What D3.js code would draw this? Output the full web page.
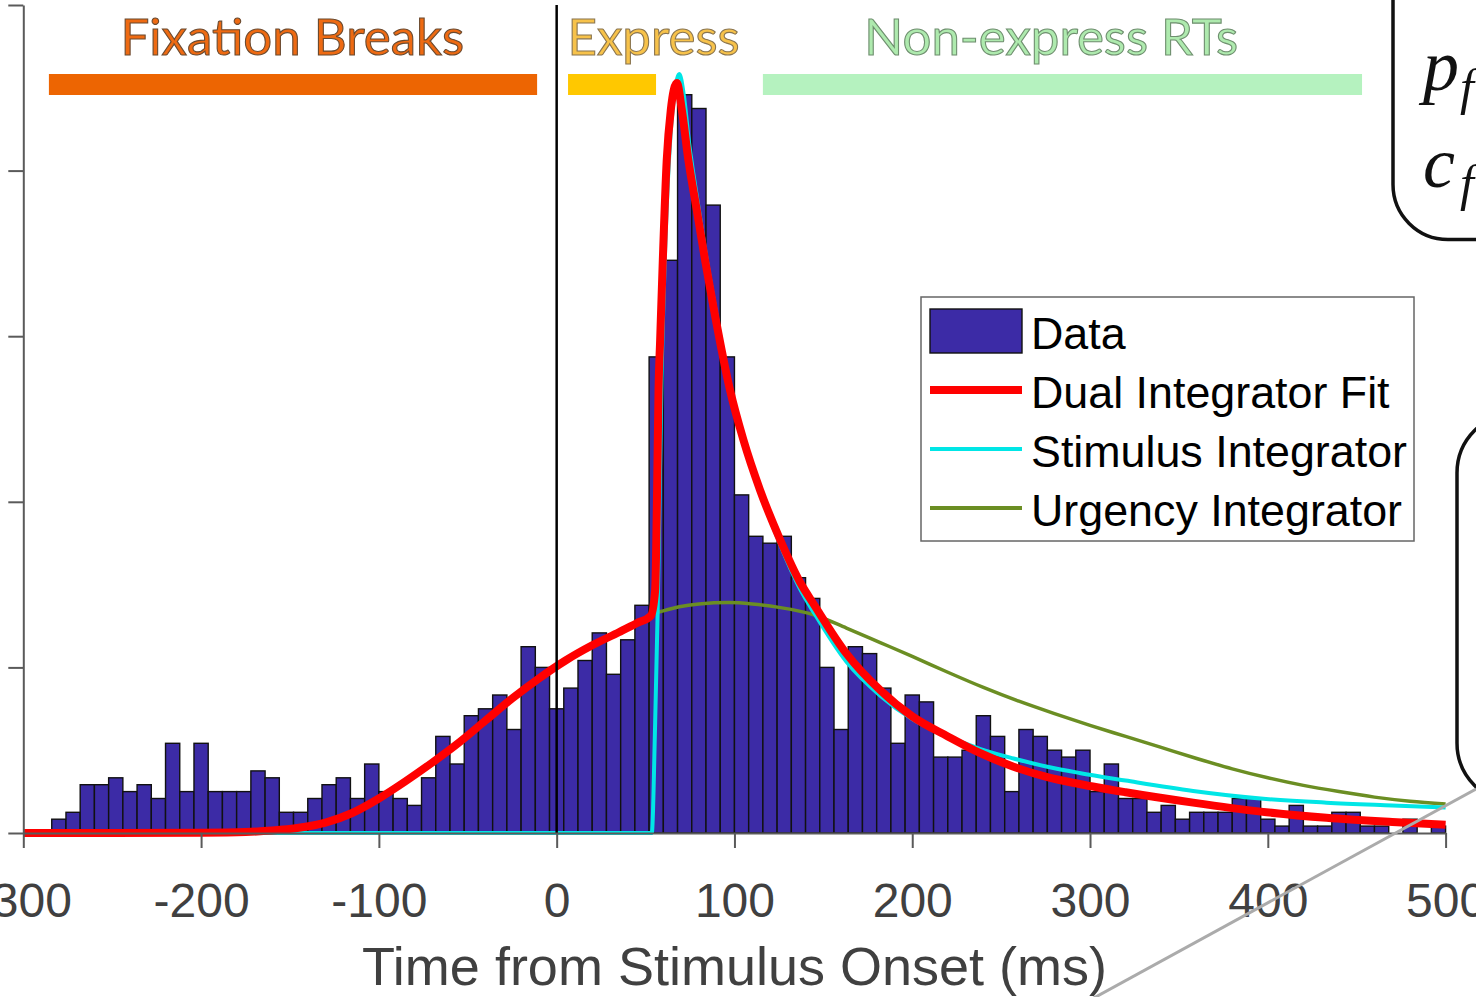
<!DOCTYPE html>
<html>
<head>
<meta charset="utf-8">
<script src="https://cdn.jsdelivr.net/npm/d3@7"></script>
<style>
  html, body { margin: 0; padding: 0; background: #fff; }
  svg { display: block; }
</style>
</head>
<body>
<svg id="chart" width="1476" height="997"></svg>
<script>
// ---- data -----------------------------------------------------------
// Histogram of saccade times, 8 ms bins starting at -300 ms
const binStart = -300;
const binWidth = 8;
const counts = [
  0, 0, 2, 3, 7, 7, 8, 6, 7, 5,
  13, 6, 13, 6, 6, 6, 9, 8, 3, 3,
  5, 7, 8, 5, 10, 6, 5, 4, 8, 14,
  10, 17, 18, 20, 15, 27, 24, 18, 21, 25,
  29, 23, 28, 33, 69, 83, 107, 105, 91, 69,
  49, 43, 42, 43, 37, 34, 24, 15, 27, 26,
  21, 13, 20, 19, 11, 11, 12, 17, 14, 6,
  15, 14, 12, 11, 12, 6, 10, 5, 5, 3,
  4, 2, 3, 3, 3, 5, 5, 2, 1, 4,
  1, 1, 3, 3, 1, 1, 0, 2, 0, 1
];

// Dual integrator fit (sampled curve)
const fitTime  = [-300, -250, -200, -175, -160, -145, -130, -115, -100, -85, -70, -55, -40, -25, -10, 5, 20, 35, 45, 53,
                  55.4, 56.5, 57.3, 58.2, 59.7, 61.9, 64.2, 67.6, 70.4, 74.1, 78.8, 83.5, 88.5, 97.5, 105,
                  114.4, 125.7, 137, 145, 163, 182, 200, 220, 238, 257, 276, 294, 320, 358, 396, 433, 470, 500];
const fitValue = [0, 0, 0.05, 0.15, 0.35, 0.75, 1.5, 2.9, 5.0, 7.5, 10.2, 13.1, 16.3, 19.5, 22.4, 25.0, 27.2, 29.1, 30.4, 31.5,
                  35.2, 49.7, 64.2, 71.4, 83.0, 97.5, 104.8, 108.7, 104.8, 97.5, 90.3, 83.0, 75.8, 64.2, 57.0,
                  49.7, 42.5, 36.3, 33.0, 26.0, 20.7, 16.9, 14.0, 11.6, 9.6, 8.1, 7.1, 5.9, 4.4, 3.1, 2.2, 1.6, 1.2];

// Stimulus integrator component
const stimTime  = [-300, -100, 0, 53.5, 55.4, 56.8, 59, 61.5, 64, 66.5, 69, 71.5, 74.5, 79, 83.5, 88.5, 97.5,
                   105, 114.4, 125.7, 137, 145, 163, 182, 200, 220, 238, 257, 276, 294, 320, 358, 396, 433, 470, 500];
const stimValue = [0, 0, 0, 0, 16, 32, 66, 88, 101, 107.5, 110, 107, 100, 92, 84.5, 77, 65,
                   57.5, 49.5, 41.8, 35.3, 31.8, 24.8, 19.9, 16.5, 14.0, 12.2, 10.8, 9.6, 8.7, 7.6, 6.1, 5.0, 4.4, 4.0, 3.7];

// Urgency integrator component
const urgTime  = [-300, -250, -200, -175, -160, -145, -130, -115, -100, -85, -70, -55, -40, -25, -10, 5, 20, 35, 45, 53,
                  55, 60, 69, 80, 97, 110, 125, 145, 163, 182, 200, 220, 240, 260, 280, 300, 320, 340, 360,
                  380, 400, 420, 440, 460, 480, 500];
const urgValue = [0, 0, 0.05, 0.15, 0.35, 0.75, 1.5, 2.9, 5.0, 7.5, 10.2, 13.1, 16.3, 19.5, 22.4, 25.0, 27.2, 29.1, 30.4, 31.5,
                  31.8, 32.2, 32.8, 33.2, 33.4, 33.2, 32.7, 31.6, 29.7, 27.6, 25.6, 23.3, 21.1, 19.1, 17.3, 15.6, 14.0, 12.4, 10.8,
                  9.3, 8.0, 6.9, 6.0, 5.2, 4.6, 4.2];

// Axis ticks
const xTicks = [-300, -200, -100, 0, 100, 200, 300, 400, 500];
const yTicks = [0, 24, 48, 72, 96, 120];

// Epoch annotations above the histogram
const epochNames  = ["Fixation Breaks", "Express", "Non-express RTs"];
const epochStart  = [-285.6, 6.4, 116];
const epochEnd    = [-11, 55.9, 453];
const epochLabelAt = [-148.7, 54.5, 278.2];

// Legend entries
const legendNames = ["Data", "Dual Integrator Fit", "Stimulus Integrator", "Urgency Integrator"];

// ---- drawing --------------------------------------------------------
const svg = d3.select("#chart");

const x = d3.scaleLinear().domain([-300, 500]).range([23.3, 1445.6]);
const y = d3.scaleLinear().domain([0, 120]).range([833, 5]);

const colors = {
  bar: "#3C2BA6",
  fit: "#FF0000",
  stim: "#00E6E6",
  urg: "#6B8E23",
  epochBars: ["#ED6502", "#FFC800", "#B5F2BF"],
  epochText: ["#EE6A12", "#F7C24A", "#AEEAAE"],
  epochStroke: ["#6a4a30", "#8a7550", "#6f8f6f"]
};

// histogram bars
const bins = counts.map((c, i) => ({ x0: binStart + i * binWidth, x1: binStart + (i + 1) * binWidth, n: c }));
svg.append("g")
  .selectAll("rect")
  .data(bins.filter(d => d.n > 0))
  .join("rect")
  .attr("x", d => x(d.x0))
  .attr("width", d => x(d.x1) - x(d.x0))
  .attr("y", d => y(d.n))
  .attr("height", d => y(0) - y(d.n))
  .attr("fill", colors.bar)
  .attr("stroke", "#111")
  .attr("stroke-width", 1.4);

// model curves
const line = d3.line().x(d => x(d[0])).y(d => y(d[1])).curve(d3.curveMonotoneX);
const zip = (a, b) => a.map((v, i) => [v, b[i]]);

svg.append("path").attr("d", line(zip(urgTime, urgValue)))
  .attr("fill", "none").attr("stroke", colors.urg).attr("stroke-width", 3.5);
svg.append("path").attr("d", line(zip(stimTime, stimValue)))
  .attr("fill", "none").attr("stroke", colors.stim).attr("stroke-width", 4);
svg.append("path").attr("d", line(zip(fitTime, fitValue)))
  .attr("fill", "none").attr("stroke", colors.fit).attr("stroke-width", 8)
  .attr("stroke-linejoin", "round");

// stimulus onset marker
svg.append("line")
  .attr("x1", x(0)).attr("x2", x(0))
  .attr("y1", y(120)).attr("y2", y(0))
  .attr("stroke", "#000").attr("stroke-width", 2.5);

// axes
const axisColor = "#5a5a5a";
const gx = svg.append("g").attr("transform", `translate(0,${y(0)})`)
  .call(d3.axisBottom(x).tickValues(xTicks).tickSize(15).tickSizeOuter(0).tickFormat(d => String(d)));
gx.select(".domain").attr("stroke", axisColor).attr("stroke-width", 2);
gx.selectAll(".tick line").attr("stroke", axisColor).attr("stroke-width", 2);
gx.selectAll(".tick text")
  .attr("y", 84).attr("dy", 0)
  .attr("fill", "#404040")
  .style("font-family", "'Liberation Sans', Arial, sans-serif")
  .style("font-size", "48px");

const gy = svg.append("g").attr("transform", `translate(${x(-300)},0)`)
  .call(d3.axisLeft(y).tickValues(yTicks).tickSize(15).tickSizeOuter(0).tickFormat(""));
gy.select(".domain").attr("stroke", axisColor).attr("stroke-width", 2);
gy.selectAll(".tick line").attr("stroke", axisColor).attr("stroke-width", 2);

svg.append("text")
  .attr("x", (x(-300) + x(500)) / 2).attr("y", 985)
  .attr("text-anchor", "middle")
  .attr("fill", "#404040")
  .style("font-family", "'Liberation Sans', Arial, sans-serif")
  .style("font-size", "54px")
  .text("Time from Stimulus Onset (ms)");

// epoch bars and labels
const ep = svg.append("g");
epochNames.forEach((name, i) => {
  ep.append("rect")
    .attr("x", x(epochStart[i])).attr("y", 74)
    .attr("width", x(epochEnd[i]) - x(epochStart[i])).attr("height", 21)
    .attr("fill", colors.epochBars[i]);
  ep.append("text")
    .attr("x", x(epochLabelAt[i])).attr("y", 55)
    .attr("text-anchor", "middle")
    .attr("fill", colors.epochText[i])
    .attr("stroke", colors.epochStroke[i]).attr("stroke-width", 1.1)
    .style("font-family", "Lato, 'Open Sans', sans-serif")
    .style("font-size", "51px")
    .text(name);
});

// legend
const lg = svg.append("g");
lg.append("rect").attr("x", 921).attr("y", 297).attr("width", 493).attr("height", 244)
  .attr("fill", "#fff").attr("stroke", "#666").attr("stroke-width", 1.5);
const rowY = [331, 390, 449, 508];
lg.append("rect").attr("x", 930).attr("y", rowY[0] - 22).attr("width", 92).attr("height", 44)
  .attr("fill", colors.bar).attr("stroke", "#111").attr("stroke-width", 1.4);
[[colors.fit, 8], [colors.stim, 4], [colors.urg, 4]].forEach((s, i) => {
  lg.append("line").attr("x1", 930).attr("x2", 1022)
    .attr("y1", rowY[i + 1]).attr("y2", rowY[i + 1])
    .attr("stroke", s[0]).attr("stroke-width", s[1]);
});
legendNames.forEach((name, i) => {
  lg.append("text").attr("x", 1031).attr("y", rowY[i] + 18)
    .attr("fill", "#000")
    .style("font-family", "'Liberation Sans', Arial, sans-serif")
    .style("font-size", "44.8px")
    .text(name);
});

// side panels with parameter notation
const side = svg.append("g");
side.append("rect").attr("x", 1393).attr("y", -200).attr("width", 300).attr("height", 439.5)
  .attr("rx", 55).attr("fill", "#fff").attr("stroke", "#111").attr("stroke-width", 3.5);
side.append("rect").attr("x", 1457).attr("y", 413).attr("width", 300).attr("height", 390)
  .attr("rx", 60).attr("fill", "#fff").attr("stroke", "#111").attr("stroke-width", 3.5);

const mathFont = "'Liberation Serif', 'DejaVu Serif', serif";
const sym = [["p", 90, 104], ["c", 187, 200]];
sym.forEach(s => {
  side.append("text").attr("x", 1423).attr("y", s[1])
    .style("font-family", mathFont).style("font-style", "italic")
    .style("font-size", "72px").attr("fill", "#111").text(s[0]);
  side.append("text").attr("x", 1460).attr("y", s[2])
    .style("font-family", mathFont).style("font-style", "italic")
    .style("font-size", "50px").attr("fill", "#111").text("f");
});

// callout connector
svg.append("line")
  .attr("x1", 1476).attr("y1", 789).attr("x2", 1092).attr("y2", 999)
  .attr("stroke", "#ababab").attr("stroke-width", 3);
</script>
</body>
</html>
